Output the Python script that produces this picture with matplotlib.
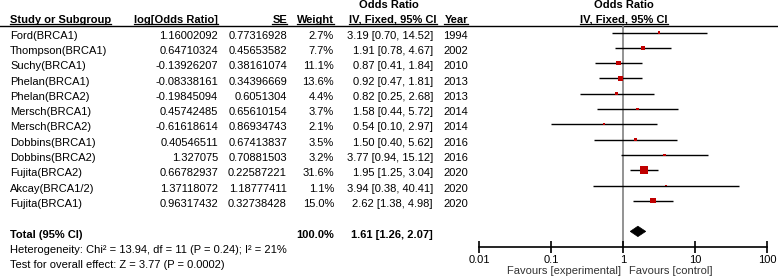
import matplotlib
matplotlib.use('Agg')
import matplotlib.pyplot as plt
from matplotlib.patches import Polygon
import numpy as np

plt.rcParams['font.family'] = ['Liberation Sans', 'DejaVu Sans']

# data
studies = ['Ford(BRCA1)', 'Thompson(BRCA1)', 'Suchy(BRCA1)', 'Phelan(BRCA1)',
           'Phelan(BRCA2)', 'Mersch(BRCA1)', 'Mersch(BRCA2)', 'Dobbins(BRCA1)',
           'Dobbins(BRCA2)', 'Fujita(BRCA2)', 'Akcay(BRCA1/2)', 'Fujita(BRCA1)']
log_or = ['1.16002092', '0.64710324', '-0.13926207', '-0.08338161', '-0.19845094',
          '0.45742485', '-0.61618614', '0.40546511', '1.327075', '0.66782937',
          '1.37118072', '0.96317432']
se = ['0.77316928', '0.45653582', '0.38161074', '0.34396669', '0.6051304',
      '0.65610154', '0.86934743', '0.67413837', '0.70881503', '0.22587221',
      '1.18777411', '0.32738428']
weight = [2.7, 7.7, 11.1, 13.6, 4.4, 3.7, 2.1, 3.5, 3.2, 31.6, 1.1, 15.0]
odds = [3.19, 1.91, 0.87, 0.92, 0.82, 1.58, 0.54, 1.50, 3.77, 1.95, 3.94, 2.62]
ci_lo = [0.70, 0.78, 0.41, 0.47, 0.25, 0.44, 0.10, 0.40, 0.94, 1.25, 0.38, 1.38]
ci_hi = [14.52, 4.67, 1.84, 1.81, 2.68, 5.72, 2.97, 5.62, 15.12, 3.04, 40.41, 4.98]
years = [1994, 2002, 2010, 2013, 2013, 2014, 2014, 2016, 2016, 2020, 2020, 2020]

total_or, total_lo, total_hi = 1.61, 1.26, 2.07
het_text = 'Heterogeneity: Chi\u00b2 = 13.94, df = 11 (P = 0.24); I\u00b2 = 21%'
effect_text = 'Test for overall effect: Z = 3.77 (P = 0.0002)'
ticks = [0.01, 0.1, 1, 10, 100]
tick_labels = ['0.01', '0.1', '1', '10', '100']

W, H = 778, 278
fig = plt.figure(figsize=(W / 100, H / 100), dpi=100)

# text layer in pixel coordinates
ax = fig.add_axes([0, 0, 1, 1])
ax.set_xlim(0, W)
ax.set_ylim(H, 0)
ax.axis('off')

# forest layer: bottom spine sits at y=247, top at y=25
top, bottom = 25, 247
fx0, fx1 = 479, 767
axf = fig.add_axes([fx0 / W, (H - bottom) / H, (fx1 - fx0) / W, (bottom - top) / H])
axf.set_xscale('log')
axf.set_xlim(0.01, 100)
axf.set_ylim(bottom, top)
axf.patch.set_visible(False)
for s in ['top', 'left', 'right']:
    axf.spines[s].set_visible(False)
axf.spines['bottom'].set_linewidth(1.2)
axf.set_yticks([])
axf.set_xticks(ticks)
axf.set_xticklabels(tick_labels)
axf.minorticks_off()
axf.tick_params(axis='x', direction='inout', length=8, width=1.2, labelsize=8, pad=2)

fs = 8
first_row, row_h = 32.5, 15.3
row_y = first_row + row_h * np.arange(len(studies))
txt_off = 3.2

# headers
hdr = []
hdr.append(ax.text(10, 20, 'Study or Subgroup', fontsize=fs, fontweight='bold', va='center', ha='left'))
hdr.append(ax.text(218, 20, 'log[Odds Ratio]', fontsize=fs, fontweight='bold', va='center', ha='right'))
hdr.append(ax.text(287, 20, 'SE', fontsize=fs, fontweight='bold', va='center', ha='right'))
hdr.append(ax.text(334, 20, 'Weight', fontsize=fs, fontweight='bold', va='center', ha='right'))
hdr.append(ax.text(393, 20, 'IV, Fixed, 95% CI', fontsize=fs, fontweight='bold', va='center', ha='center'))
hdr.append(ax.text(468, 20, 'Year', fontsize=fs, fontweight='bold', va='center', ha='right'))
hdr.append(ax.text(624, 20, 'IV, Fixed, 95% CI', fontsize=fs, fontweight='bold', va='center', ha='center'))
ax.text(389, 5, 'Odds Ratio', fontsize=fs, fontweight='bold', va='center', ha='center')
ax.text(624, 5, 'Odds Ratio', fontsize=fs, fontweight='bold', va='center', ha='center')
ax.plot([0, W], [25.5, 25.5], color='black', lw=1)

# study rows
for i, name in enumerate(studies):
    y = row_y[i] + txt_off
    ax.text(10, y, name, fontsize=fs, va='center', ha='left')
    ax.text(218, y, log_or[i], fontsize=fs, va='center', ha='right')
    ax.text(287, y, se[i], fontsize=fs, va='center', ha='right')
    ax.text(334, y, f'{weight[i]:.1f}%', fontsize=fs, va='center', ha='right')
    ax.text(433, y, f'{odds[i]:.2f} [{ci_lo[i]:.2f}, {ci_hi[i]:.2f}]', fontsize=fs, va='center', ha='right')
    ax.text(468, y, str(years[i]), fontsize=fs, va='center', ha='right')

# total row
ty = first_row + row_h * 13
ax.text(10, ty + txt_off, 'Total (95% CI)', fontsize=fs, fontweight='bold', va='center', ha='left')
ax.text(334, ty + txt_off, '100.0%', fontsize=fs, fontweight='bold', va='center', ha='right')
ax.text(433, ty + txt_off, f'{total_or:.2f} [{total_lo:.2f}, {total_hi:.2f}]', fontsize=fs,
        fontweight='bold', va='center', ha='right')
ax.text(10, 250, het_text, fontsize=fs, va='center', ha='left')
ax.text(10, 265, effect_text, fontsize=fs, va='center', ha='left')

# forest marks
axf.axvline(1, color='#808080', lw=1.2, zorder=1)
axf.hlines(row_y, ci_lo, ci_hi, color='black', lw=1, zorder=2)
sizes = 30 * np.array(weight) / max(weight)
axf.scatter(odds, row_y, s=sizes, marker='s', color='#C00000', linewidths=0, zorder=3)
dh = 5.2
diamond = Polygon([(total_lo, ty), (total_or, ty - dh), (total_hi, ty), (total_or, ty + dh)],
                  closed=True, facecolor='black', edgecolor='black', lw=0.5, zorder=3)
axf.add_patch(diamond)

ax.text(621, 271.5, 'Favours [experimental]', fontsize=fs, va='center', ha='right', color='#333333')
ax.text(629, 271.5, 'Favours [control]', fontsize=fs, va='center', ha='left', color='#333333')

# underline headers
fig.canvas.draw()
r = fig.canvas.get_renderer()
inv = ax.transData.inverted()
for t in hdr:
    bb = t.get_window_extent(renderer=r)
    (x0, y0), (x1, y1) = inv.transform([(bb.x0, bb.y0), (bb.x1, bb.y1)])
    ax.plot([x0, x1], [23.8, 23.8], color='black', lw=0.9)

fig.savefig('out.png', dpi=100, facecolor='white')
